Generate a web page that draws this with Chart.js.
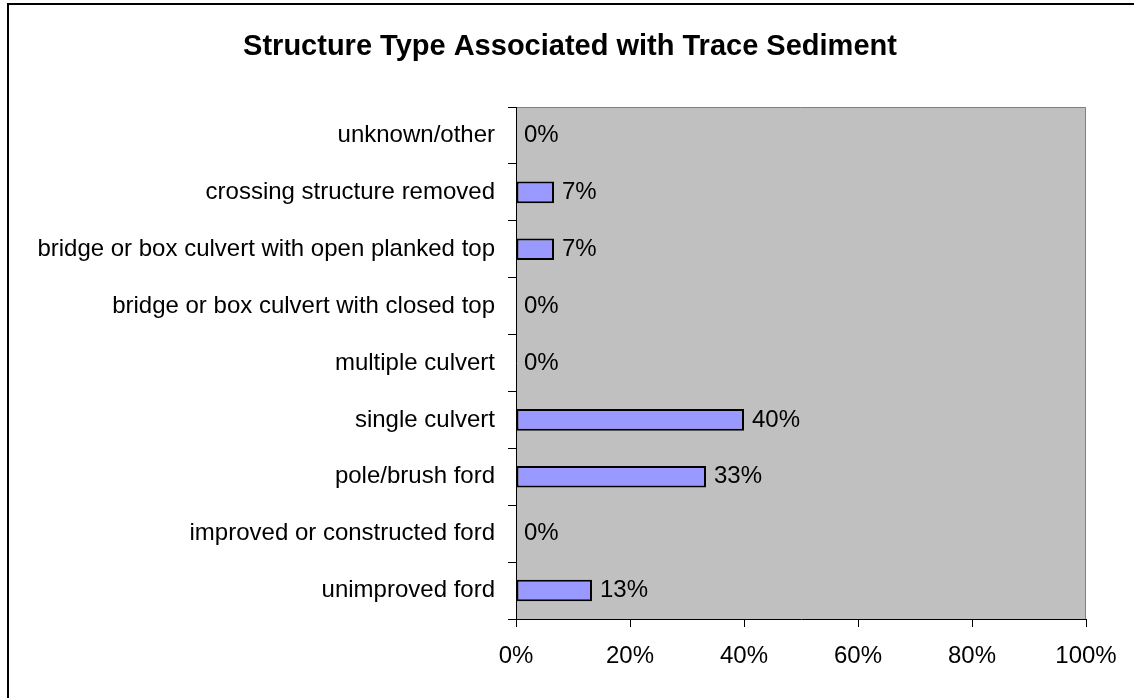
<!DOCTYPE html>
<html>
<head>
<meta charset="utf-8">
<script src="https://cdn.jsdelivr.net/npm/chart.js@4"></script>
<style>
  html, body { margin: 0; padding: 0; background: #fff; overflow: hidden; }
  #wrap { width: 1134px; height: 698px; }
</style>
</head>
<body>
<div id="wrap"><canvas id="chart" width="1134" height="698"></canvas></div>
<script>
// Categories, top to bottom as shown
const categories = [
    'unknown/other',
    'crossing structure removed',
    'bridge or box culvert with open planked top',
    'bridge or box culvert with closed top',
    'multiple culvert',
    'single culvert',
    'pole/brush ford',
    'improved or constructed ford',
    'unimproved ford'
];

// Share of sites (%)
const shares = [0, 6.67, 6.67, 0, 0, 40, 33.33, 0, 13.33];

// x axis ticks
const xTicks = [0, 20, 40, 60, 80, 100];

const titleText = 'Structure Type Associated with Trace Sediment';
const FONT = '"Liberation Sans", Arial, sans-serif';

// White page, outer frame, grey plot area and title
const backdrop = {
    id: 'backdrop',
    beforeDraw(chart) {
        const { ctx, chartArea: a } = chart;
        ctx.save();
        ctx.fillStyle = '#fff';
        ctx.fillRect(0, 0, chart.width, chart.height);

        ctx.strokeStyle = '#000';
        ctx.lineWidth = 2;
        ctx.strokeRect(8, 4, 1140, 700);

        ctx.fillStyle = '#c0c0c0';
        ctx.fillRect(a.left, a.top, a.right - a.left, a.bottom - a.top);
        ctx.strokeStyle = '#808080';
        ctx.lineWidth = 1;
        ctx.beginPath();
        ctx.moveTo(a.left, a.top + 0.5);
        ctx.lineTo(a.right - 0.5, a.top + 0.5);
        ctx.lineTo(a.right - 0.5, a.bottom);
        ctx.stroke();

        ctx.fillStyle = '#000';
        ctx.font = 'bold 29px ' + FONT;
        ctx.textAlign = 'center';
        ctx.textBaseline = 'alphabetic';
        ctx.fillText(titleText, 570, 55);
        ctx.restore();
    }
};

// Value labels to the right of each bar
const valueLabels = {
    id: 'valueLabels',
    afterDatasetsDraw(chart) {
        const { ctx } = chart;
        const meta = chart.getDatasetMeta(0);
        ctx.save();
        ctx.fillStyle = '#000';
        ctx.font = '24px ' + FONT;
        ctx.textAlign = 'left';
        ctx.textBaseline = 'middle';
        meta.data.forEach((bar, i) => {
            ctx.fillText(Math.round(shares[i]) + '%', bar.x + 8, bar.y);
        });
        ctx.restore();
    }
};

new Chart(document.getElementById('chart'), {
    type: 'bar',
    data: {
        labels: categories,
        datasets: [{
            data: shares,
            backgroundColor: '#9999ff',
            borderColor: '#000',
            borderWidth: 2,
            borderSkipped: false,
            barPercentage: 0.38,
            categoryPercentage: 1
        }]
    },
    options: {
        indexAxis: 'y',
        responsive: false,
        animation: false,
        devicePixelRatio: 1,
        layout: { padding: { left: 0, right: 48, top: 107, bottom: 19 } },
        plugins: {
            legend: { display: false },
            tooltip: { enabled: false }
        },
        scales: {
            y: {
                afterFit(scale) { scale.width = 516; },
                grid: {
                    offset: true,
                    drawOnChartArea: false,
                    drawTicks: true,
                    tickLength: 8,
                    color: '#000'
                },
                border: { color: '#000', width: 1 },
                ticks: {
                    color: '#000',
                    padding: 13,
                    font: { family: FONT, size: 24 }
                }
            },
            x: {
                min: 0,
                max: 100,
                afterFit(scale) { scale.height = 60; },
                afterBuildTicks(scale) {
                    scale.ticks = xTicks.map(v => ({ value: v }));
                },
                grid: {
                    drawOnChartArea: false,
                    drawTicks: true,
                    tickLength: 8,
                    color: '#000'
                },
                border: { color: '#000', width: 1 },
                ticks: {
                    color: '#000',
                    padding: 15,
                    maxRotation: 0,
                    font: { family: FONT, size: 24 },
                    callback: v => v + '%'
                }
            }
        }
    },
    plugins: [backdrop, valueLabels]
});
</script>
</body>
</html>
